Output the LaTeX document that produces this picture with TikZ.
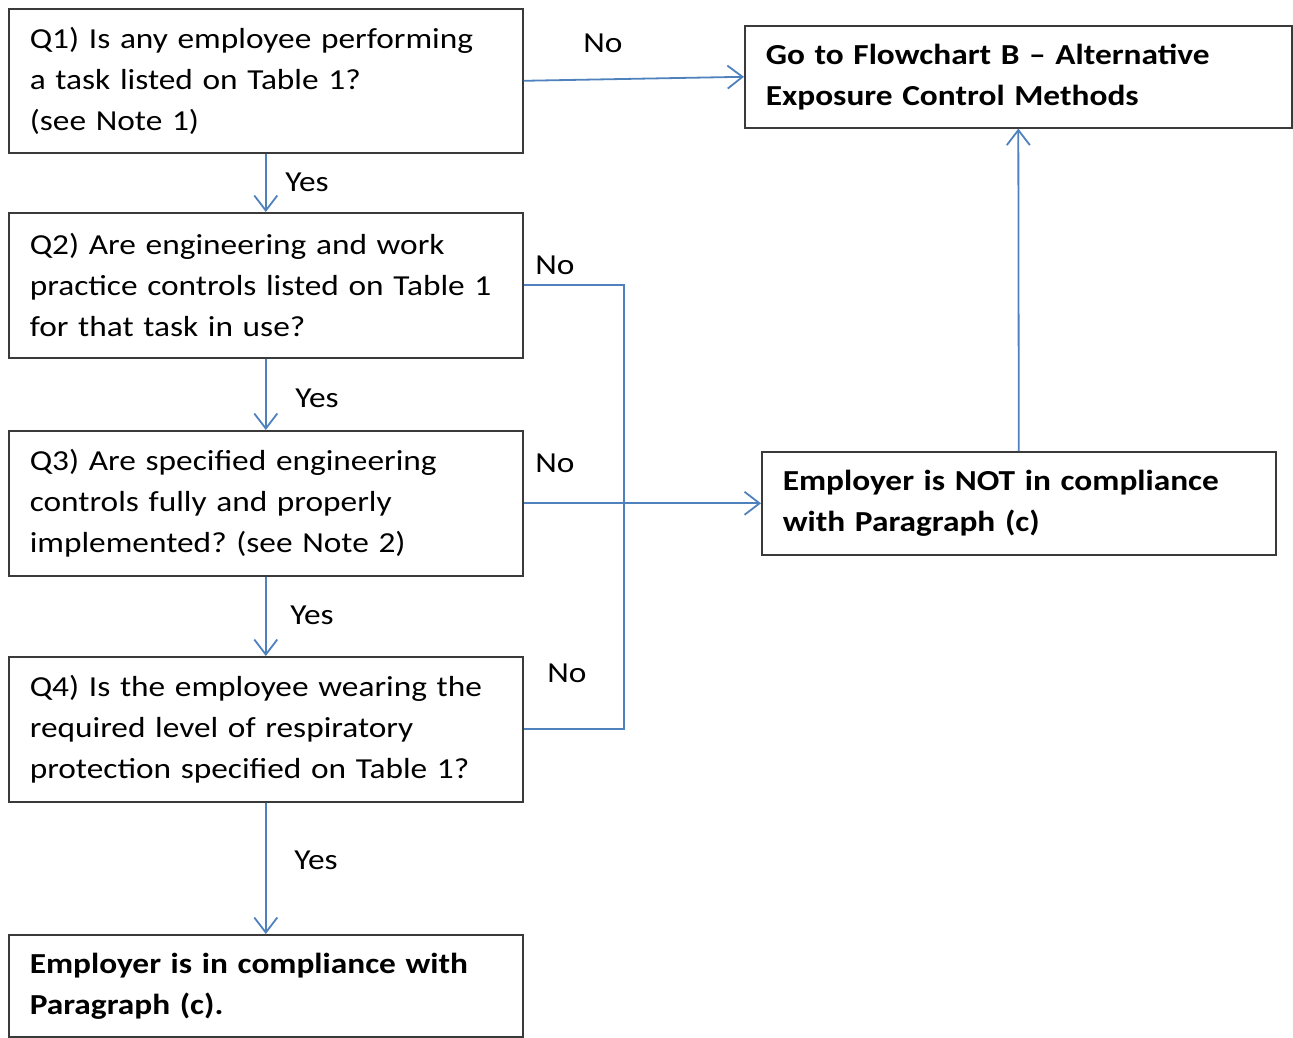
\documentclass[tikz,border=0pt]{standalone}
\usepackage{fontspec}
\setmainfont{Carlito}[FakeStretch=1.15]
\usetikzlibrary{arrows.meta}
\frenchspacing
\definecolor{lineblue}{HTML}{4F81BD}
\definecolor{boxgray}{HTML}{3A3A3A}
\tikzset{
  qbox/.style={draw=boxgray, line width=1.6pt, rectangle, anchor=north west,
    align=left, inner xsep=21pt, inner ysep=0pt,
    font=\frenchspacing\fontsize{29}{41}\selectfont},
  rbox/.style={qbox, font=\frenchspacing\bfseries\fontsize{29}{41}\selectfont},
  conn/.style={draw=lineblue, line width=1.8pt},
  arr/.style={conn, -{Straight Barb[length=15pt,width=23pt,line width=1.8pt]}},
  lbl/.style={font=\fontsize{29}{35}\selectfont, inner sep=0pt}
}
\begin{document}
\begin{tikzpicture}[x=1pt,y=-1pt]
\useasboundingbox (0,0) rectangle (1293,1038);
\node[qbox, text width=472pt, minimum height=144pt] (q1) at (8,8)
  {Q1) Is any employee performing\\a task listed on Table 1?\\(see Note 1)};
\node[qbox, text width=472pt, minimum height=145pt] (q2) at (8,212)
  {Q2) Are engineering and work\\practice controls listed on Table 1\\for that task in use?};
\node[qbox, text width=472pt, minimum height=145pt] (q3) at (8,430)
  {Q3) Are specified engineering\\controls fully and properly\\implemented? (see Note 2)};
\node[qbox, text width=472pt, minimum height=145pt] (q4) at (8,656)
  {Q4) Is the employee wearing the\\required level of respiratory\\protection specified on Table 1?};
\node[rbox, text width=472pt, minimum height=102pt] (fin) at (8,934)
  {Employer is in compliance with\\Paragraph (c).};
\node[rbox, text width=505pt, minimum height=102pt] (fb) at (744,25)
  {Go to Flowchart B -- Alternative\\Exposure Control Methods};
\node[rbox, text width=472pt, minimum height=103pt] (nc) at (761,451)
  {Employer is NOT in compliance\\with Paragraph (c)};
\coordinate (jn) at (624,0);
\draw[arr] (q1.south) -- (q2.north);
\draw[arr] (q2.south) -- (q3.north);
\draw[arr] (q3.south) -- (q4.north);
\draw[arr] (q4.south) -- (fin.north);
\draw[arr] (q1.east) -- (fb.west);
\draw[arr] (q3.east) -- (nc.west);
\draw[arr] (nc.north) -- (fb.south);
\draw[conn] (q2.east) -- (q2.east -| jn) -- (q4.east -| jn) -- (q4.east);
\node[lbl] (y1) at (307,182) {Yes};
\node[lbl] (y2) at (317,398) {Yes};
\node[lbl] (y3) at (312,615) {Yes};
\node[lbl] (y4) at (316,860) {Yes};
\node[lbl] (n1) at (603,43) {No};
\node[lbl] (n2) at (555,265) {No};
\node[lbl] (n3) at (555,463) {No};
\node[lbl] (n4) at (567,673) {No};
\end{tikzpicture}
\end{document}
